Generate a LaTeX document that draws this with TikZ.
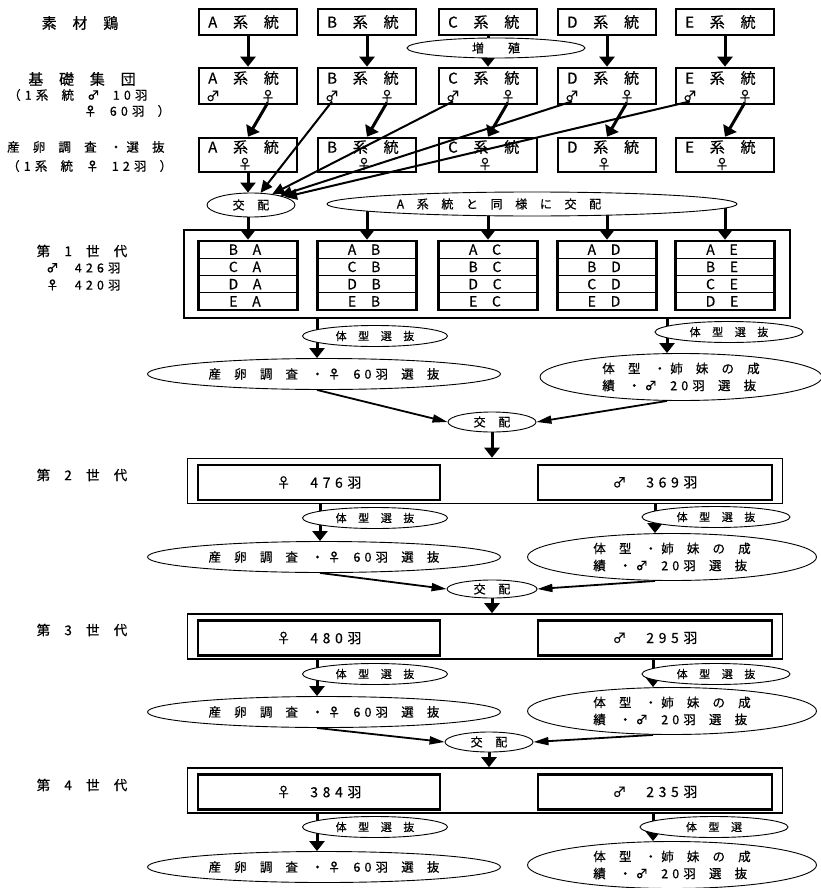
\documentclass[tikz,border=0pt]{standalone}
\usepackage{fontspec}
\setmainfont{Noto Sans CJK JP}[LetterSpace=33,WordSpace=1.9,FakeBold=0.5]
\usetikzlibrary{arrows.meta,shapes.geometric,backgrounds}

\tikzset{
  moji/.style={inner sep=0pt, font=\fontsize{#1}{17}\selectfont},
  kei/.style={draw, line width=2.6pt, minimum width=98pt, inner sep=0pt},
  waku/.style={draw, line width=1.6pt, inner sep=0pt},
  naka/.style={draw, line width=2.8pt, inner sep=0pt, minimum height=35pt},
  hyou/.style={draw, line width=2.6pt, inner sep=0pt, minimum width=99pt, minimum height=69pt},
  daen/.style={draw, ellipse, fill=white, line width=0.9pt, inner sep=0pt},
  ya/.style={line width=3pt, -{Triangle[width=15pt,length=10pt]}},
  osu/.style={line width=2pt, -{Triangle[width=11pt,length=12pt]}},
  kou/.style={line width=1.8pt, -{Triangle[width=8pt,length=15pt]}},
}

\begin{document}
\begin{tikzpicture}[x=1pt,y=-1pt]
  \useasboundingbox (0,0) rectangle (821,888);

  % ---- 左側の見出し ----
  \node[moji=15] (hSozai) at (80,23) {素 材 鶏};
  \node[moji=15] (hKiso) at (82,79) {基 礎 集 団};
  \node[moji=12.5, anchor=west] (hKiso2) at (8,95) {（1系 統 ♂ 10羽};
  \node[moji=12.5, anchor=west] (hKiso3) at (84,111) {♀ 60羽 ）};
  \node[moji=12.5, anchor=west] (hSanran) at (7,147) {産 卵 調 査 ・選 抜};
  \node[moji=12.5, anchor=west] (hSanran2) at (7,166) {（1系 統 ♀ 12羽 ）};
  \node[moji=13.5] (hG1) at (82,251) {第 1 世 代};
  \node[moji=12.5, anchor=west] (hG1m) at (46,268) {♂\hspace{3pt} 426羽};
  \node[moji=12.5, anchor=west] (hG1f) at (46,285) {♀\hspace{3pt} 420羽};
  \node[moji=13.5] (hG2) at (82,475) {第 2 世 代};
  \node[moji=13.5] (hG3) at (82,630) {第 3 世 代};
  \node[moji=13.5] (hG4) at (82,785) {第 4 世 代};

  % ---- 素材鶏・基礎集団・産卵調査（系統ごと） ----
  \foreach \sy/\x in {A/248,B/367,C/488,D/607,E/725} {
    \node[kei, minimum height=26pt] (\sy1) at (\x,22) {};
    \node[moji=15, anchor=west] (\sy1t) at ({\x-40},22) {\sy\ 系 統};
    \node[kei, minimum height=36pt] (\sy2) at (\x,86) {};
    \node[moji=15, anchor=west] (\sy2t) at ({\x-40},78) {\sy\ 系 統};
    \node[moji=14] (\sy2m) at ({\x-35},96) {♂};
    \node[moji=14] (\sy2f) at ({\x+20},96) {♀};
    \node[kei, minimum height=34pt] (\sy3) at (\x,155) {};
    \node[moji=15, anchor=west] (\sy3t) at ({\x-40},147) {\sy\ 系 統};
    \node[moji=14] (\sy3f) at ({\x-3},164) {♀};
  }
  \node[daen, minimum width=178pt, minimum height=20pt, moji=12] (Zo) at (496,48) {増\qquad 殖};

  % ---- 交配 ----
  \node[daen, minimum width=88pt, minimum height=24pt, moji=12] (K0) at (251,205) {交 配};
  \node[daen, minimum width=410pt, minimum height=24pt, moji=12] (K1) at (532,204) {A 系 統 と 同 様 に 交 配\hspace*{66pt}};

  % ---- 第1世代（交雑の組合せ表） ----
  \node[waku, minimum width=606pt, minimum height=88pt] (G1) at (487,274) {};
  \foreach \sy/\x/\ra/\rb/\rc/\rd in {A/248/B A/C A/D A/E A, B/367/A B/C B/D B/E B,
      C/488/A C/B C/D C/E C, D/607/A D/B D/C D/E D, E/725/A E/B E/C E/D E} {
    \node[hyou] (T\sy) at (\x,275.5) {};
    \foreach \i/\lab in {1/\ra,2/\rb,3/\rc,4/\rd}
      \node[moji=14] (T\sy\i) at ({\x-3},{241+17.25*(\i-0.5)}) {\lab};
    \foreach \i in {1,2,3}
      \draw[line width=1.3pt] ({\x-49.5},{241+17.25*\i}) -- ({\x+49.5},{241+17.25*\i});
  }

  % ---- 第2〜4世代 ----
  \foreach \n/\y/\f/\m in {2/481/476/369, 3/636.5/480/295, 4/790.5/384/235} {
    \node[waku, minimum width=595pt, minimum height=45pt] (G\n) at (485,\y) {};
    \node[naka, minimum width=242pt, moji=14] (F\n) at (319,{\y+1.5}) {♀\hspace{5pt} {\f}羽};
    \node[naka, minimum width=234pt, moji=14] (M\n) at (655,{\y+1.5}) {♂\hspace{5pt} {\m}羽};
  }

  % ---- 各世代の選抜 ----
  \foreach \n/\yb/\ys/\yr/\yp/\yq/\xl/\xr/\xsr/\xq/\wq/\sel in {
      1/318/336/332/374/377/317/667/729/681/282/体 型 選 抜,
      2/503/518/517/557/557/320/655/716/672/289/体 型 選 抜,
      3/659/674/674/712/711/317/653/716/672/289/体 型 選 抜,
      4/813/827/827/867/865/317/653/714/672/289/体 型 選} {
    \coordinate (d\n) at (\xl,\yb);
    \coordinate (e\n) at (\xr,\yb);
    \node[daen, minimum width=145pt, minimum height=21pt, moji=11] (SL\n) at (375,\ys) {体 型 選 抜};
    \node[daen, minimum width=148pt, minimum height=21pt, moji=11] (SR\n) at (\xsr,\yr) {\sel};
    \node[daen, minimum width=353pt, minimum height=31pt, moji=12.5] (P\n) at (324,\yp) {産 卵 調 査 ・♀ 60羽 選 抜};
    \node[daen, minimum width=\wq pt, minimum height=47pt, moji=12.5, align=left] (Q\n) at (\xq,\yq) {体 型 ・姉 妹 の 成\\績 ・♂ 20羽 選 抜};
  }
  \node[daen, minimum width=88pt, minimum height=20pt, moji=12] (K2) at (492,422) {交 配};
  \node[daen, minimum width=90pt, minimum height=18pt, moji=12] (K3) at (492,589) {交 配};
  \node[daen, minimum width=88pt, minimum height=20pt, moji=12] (K4) at (489,742) {交 配};

  % ---- 矢印（楕円の下に隠れるよう背面に描く） ----
  \begin{scope}[on background layer]
    \foreach \sy in {A,B,C,D,E} {
      \draw[ya] (\sy1) -- (\sy2);
      \draw[ya] (\sy2f.south) -- (\sy3.north);
    }
    \foreach \sy in {B,C,D,E}
      \draw[osu] (\sy2m.south) -- (K0);
    \draw[ya] (A3) -- (A3 |- K0.north);
    \draw[ya] (K0.center -| TA.north) -- (TA.north);
    \foreach \sy in {B,C,D,E}
      \draw[ya] (K1.center -| T\sy.north) -- (T\sy.north);
    \foreach \n in {1,2,3,4} {
      \draw[ya] (d\n) -- (d\n |- P\n.north);
      \draw[ya] (e\n) -- (e\n |- Q\n.north);
    }
    \foreach \n/\m in {1/2,2/3,3/4} {
      \draw[kou] (d\n |- P\n.south) -- (K\m.west);
      \draw[kou] (e\n |- Q\n.south) -- (K\m.east);
      \draw[ya] (K\m.south) -- (K\m.south |- G\m.north);
    }
  \end{scope}
\end{tikzpicture}
\end{document}
